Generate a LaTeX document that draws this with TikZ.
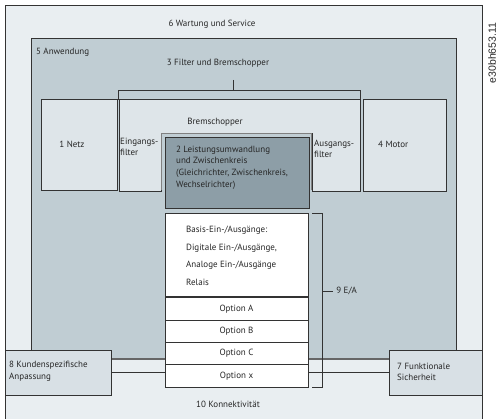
\documentclass[tikz,border=0pt]{standalone}
\usepackage{fontspec}
\setmainfont{PT Sans}
\newfontfamily\codefont{Liberation Sans}
\definecolor{outerc}{HTML}{E9EEF1}
\definecolor{innerc}{HTML}{C0CDD3}
\definecolor{lightc}{HTML}{DEE5E9}
\definecolor{darkc}{HTML}{8D9EA7}
\definecolor{sidec}{HTML}{D8E0E5}
\definecolor{linec}{HTML}{333333}
\begin{document}
\begin{tikzpicture}[x=1pt,y=-1pt,
  box/.style={draw=linec,line width=0.8pt,inner sep=0pt,outer sep=0pt,anchor=north west},
  txt/.style={font=\fontsize{9}{11.7}\selectfont,inner sep=0pt,text=black!85,align=left},
  conn/.style={draw=linec,line width=0.8pt}]
\useasboundingbox (0,0) rectangle (499,419);
% 6 outer
\node[box,fill=outerc,minimum width=477pt,minimum height=416pt] (o6) at (5,5) {};
\node[txt] (t6) at (212,24) {6 Wartung und Service};
% 5 inner
\node[box,fill=innerc,minimum width=425pt,minimum height=321pt] (in5) at (31,38) {};
\draw[draw=black!60,line width=1.6pt] (in5.south west) -- (in5.south east);
\node[txt,anchor=west] (t5) at (36,52) {5 Anwendung};
% 3 bracket
\node[txt] (t3) at (218,63) {3 Filter und Bremschopper};
\coordinate (b3l) at (118,100);
\coordinate (b3r) at (360,100);
\coordinate (b3m) at (233,80);
\draw[conn] (b3l) -- (b3l |- 0,90) -- (b3r |- 0,90) -- (b3r);
\draw[conn] (b3m) -- (b3m |- 0,90);
% 1 Netz
\node[box,fill=lightc,minimum width=76pt,minimum height=91pt] (n1) at (41,99) {};
\node[txt] (t1) at (72,144) {1 Netz};
% Bremschopper
\draw[draw=linec,line width=0.8pt,fill=lightc] (119.5,99) -- (360,99) -- (360,191) -- (312,191) -- (312,133) -- (161,133) -- (161,191) -- (119.5,191) -- cycle;
\draw[draw=black!50,line width=0.6pt] (161.5,190) -- (161.5,133.5) -- (311.5,133.5) -- (311.5,190);
\node[txt] (tbc) at (215,122) {Bremschopper};
\node[txt,anchor=west] (tein) at (120,147) {Eingangs-\\filter};
\node[txt,anchor=west] (taus) at (314,149) {Ausgangs-\\filter};
% 2 Leistungsumwandlung
\node[box,fill=darkc,line width=1pt,minimum width=144pt,minimum height=71pt] (p2) at (165,138) {};
\node[txt,anchor=west] (t2) at (176,167.5) {2 Leistungsumwandlung\\und Zwischenkreis\\(Gleichrichter, Zwischenkreis,\\Wechselrichter)};
% 4 Motor
\node[box,fill=lightc,minimum width=83pt,minimum height=92pt] (m4) at (363,99) {};
\node[txt,anchor=west] (t4) at (378,144) {4 Motor};
% 9 E/A column
\node[box,fill=white,minimum width=143pt,minimum height=83pt] (io) at (165,213) {};
\node[txt,anchor=west,font=\fontsize{9}{17.7}\selectfont] (tio) at (186,256) {Basis-Ein-/Ausg\"ange:\\Digitale Ein-/Ausg\"ange,\\Analoge Ein-/Ausg\"ange\\Relais};
\draw[draw=black!45,line width=0.8pt] (io.south west) ++(2,1.2) -- ++(139,0);
\node[box,fill=white,minimum width=143pt,minimum height=22.5pt] (oa) at (165,297.5) {};
\node[txt] at (oa.center) {Option A};
\node[box,fill=white,minimum width=143pt,minimum height=22pt] (ob) at (165,320) {};
\node[txt] at (ob.center) {Option B};
\node[box,fill=white,minimum width=143pt,minimum height=22.5pt] (oc) at (165,342) {};
\node[txt] at (oc.center) {Option C};
\node[box,fill=white,minimum width=143pt,minimum height=22.5pt] (ox) at (165,364.5) {};
\node[txt] at (ox.center) {Option x};
% 9 bracket
\coordinate (b9t) at (312,213);
\coordinate (b9b) at (312,387);
\coordinate (b9m) at (322,291);
\draw[conn] (b9t) -- ++(10,0) -- (322,387) -- (b9b);
\draw[conn] (b9m) -- ++(11,0) node[txt,anchor=west,xshift=3pt] (t9) {9 E/A};
% 8 and 7
\node[box,fill=sidec,minimum width=106pt,minimum height=45pt] (k8) at (5,350) {};
\node[txt,anchor=west] (t8) at (9,371) {8 Kundenspezifische\\Anpassung};
\node[box,fill=sidec,minimum width=93pt,minimum height=45pt] (f7) at (389,350) {};
\node[txt,anchor=west] (t7) at (397,372) {7 Funktionale\\Sicherheit};
\draw[conn] (k8.east) -- (ox.west |- k8.east);
\draw[conn] (f7.west) -- (ox.east |- f7.west);
% 10
\node[txt] (t10) at (228,404) {10 Konnektivit\"at};
% code
\node[rotate=90,font=\codefont\fontsize{10.5}{12}\selectfont,inner sep=0pt,text=black!85] (code) at (492,53) {e30bh653.11};
\end{tikzpicture}
\end{document}
